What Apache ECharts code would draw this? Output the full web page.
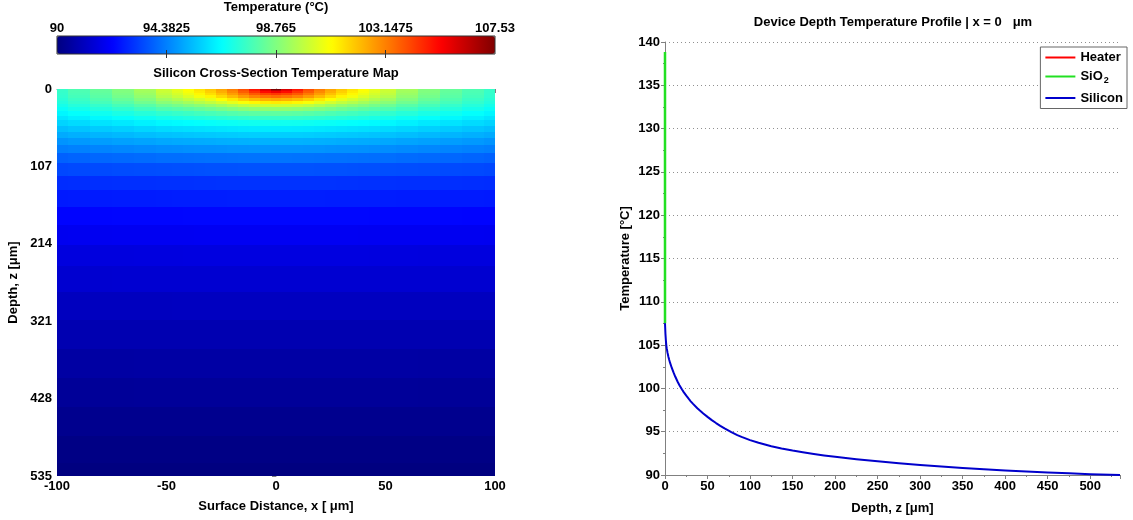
<!DOCTYPE html>
<html><head><meta charset="utf-8">
<script src="https://cdn.jsdelivr.net/npm/echarts@6/dist/echarts.min.js"></script>
<style>html,body{margin:0;padding:0;background:#fff}#c{width:1133px;height:520px}</style>
</head><body><div id="c"></div>
<script>
// ---- data ----
const xHalf = [0, 5, 10, 15, 20, 25, 30, 35, 40, 45, 50, 60, 70, 80, 90, 100];
const depthRows = [0, 2, 4, 7, 10, 14, 18, 23, 28, 34, 40, 47, 55, 63, 72, 82, 95, 110, 130, 150, 175, 200, 230, 260, 300, 340, 380, 420, 460, 500, 535];
const tempHalf = [
  [107.53,106.0,105.0,104.0,103.2,102.5,101.9,101.4,100.95,100.5,100.1,99.4,98.8,98.3,97.9,97.5],
  [106.5,105.74,104.86,103.94,103.15,102.47,101.87,101.38,100.92,100.49,100.08,99.38,98.79,98.3,97.89,97.5],
  [105.6,105.18,104.48,103.74,103.0,102.35,101.77,101.29,100.84,100.42,100.03,99.34,98.76,98.27,97.87,97.48],
  [104.4,104.2,103.83,103.26,102.64,102.04,101.5,101.07,100.65,100.24,99.89,99.22,98.68,98.2,97.82,97.44],
  [103.5,103.37,103.11,102.68,102.14,101.61,101.13,100.76,100.36,99.99,99.68,99.05,98.56,98.11,97.74,97.39],
  [102.4,102.31,102.11,101.77,101.34,100.94,100.55,100.22,99.9,99.6,99.31,98.8,98.33,97.95,97.59,97.28],
  [101.3,101.24,101.1,100.86,100.54,100.21,99.91,99.67,99.39,99.12,98.92,98.49,98.08,97.75,97.43,97.14],
  [100.1,100.06,99.97,99.81,99.59,99.36,99.12,98.96,98.78,98.6,98.42,98.07,97.76,97.46,97.2,96.93],
  [99.1,99.07,99.02,98.92,98.78,98.63,98.48,98.34,98.19,98.06,97.94,97.67,97.4,97.17,96.94,96.71],
  [98.2,98.18,98.15,98.08,97.99,97.89,97.79,97.7,97.59,97.49,97.4,97.21,97.0,96.81,96.63,96.44],
  [97.5,97.49,97.46,97.42,97.36,97.29,97.22,97.16,97.08,97.01,96.93,96.78,96.63,96.47,96.31,96.15],
  [96.85,96.84,96.83,96.8,96.75,96.71,96.66,96.61,96.56,96.5,96.45,96.33,96.2,96.09,95.96,95.83],
  [96.25,96.24,96.23,96.21,96.18,96.15,96.11,96.08,96.04,96.0,95.96,95.87,95.77,95.68,95.58,95.47],
  [95.75,95.75,95.74,95.72,95.7,95.67,95.64,95.62,95.59,95.56,95.52,95.45,95.37,95.29,95.21,95.12],
  [95.25,95.25,95.24,95.23,95.21,95.19,95.16,95.14,95.12,95.1,95.07,95.01,94.95,94.88,94.81,94.73],
  [94.75,94.75,94.74,94.73,94.72,94.7,94.68,94.67,94.65,94.63,94.61,94.56,94.51,94.46,94.4,94.34],
  [94.17,94.17,94.16,94.16,94.15,94.13,94.12,94.11,94.09,94.08,94.07,94.03,93.99,93.95,93.91,93.86],
  [93.6,93.6,93.6,93.59,93.58,93.58,93.57,93.56,93.55,93.54,93.53,93.51,93.49,93.46,93.44,93.41],
  [93.05,93.05,93.05,93.05,93.04,93.04,93.03,93.03,93.02,93.02,93.01,93.0,92.99,92.98,92.96,92.95],
  [92.7,92.7,92.7,92.7,92.7,92.69,92.69,92.69,92.68,92.68,92.67,92.66,92.65,92.64,92.63,92.62],
  [92.3,92.3,92.3,92.3,92.3,92.3,92.29,92.29,92.29,92.28,92.28,92.27,92.27,92.26,92.25,92.24],
  [91.98,91.98,91.98,91.98,91.98,91.98,91.98,91.98,91.97,91.97,91.97,91.96,91.96,91.95,91.95,91.94],
  [91.65,91.65,91.65,91.65,91.65,91.65,91.65,91.65,91.65,91.64,91.64,91.64,91.63,91.63,91.62,91.62],
  [91.4,91.4,91.4,91.4,91.4,91.4,91.4,91.4,91.4,91.39,91.39,91.39,91.39,91.38,91.38,91.38],
  [91.1,91.1,91.1,91.1,91.1,91.1,91.1,91.1,91.1,91.1,91.09,91.09,91.09,91.09,91.08,91.08],
  [90.85,90.85,90.85,90.85,90.85,90.85,90.85,90.85,90.85,90.85,90.85,90.85,90.84,90.84,90.84,90.84],
  [90.62,90.62,90.62,90.62,90.62,90.62,90.62,90.62,90.62,90.62,90.62,90.62,90.61,90.61,90.61,90.61],
  [90.43,90.43,90.43,90.43,90.43,90.43,90.43,90.43,90.43,90.43,90.43,90.43,90.42,90.42,90.42,90.42],
  [90.25,90.25,90.25,90.25,90.25,90.25,90.25,90.25,90.25,90.25,90.25,90.25,90.25,90.25,90.25,90.25],
  [90.08,90.08,90.08,90.08,90.08,90.08,90.08,90.08,90.08,90.08,90.08,90.08,90.08,90.08,90.08,90.08],
  [90.0,90.0,90.0,90.0,90.0,90.0,90.0,90.0,90.0,90.0,90.0,90.0,90.0,90.0,90.0,90.0]
];
const mapXTicks = [-100, -50, 0, 50, 100];
const mapDepthTicks = [0, 107, 214, 321, 428, 535];
const colorbarTicks = [90, 94.3825, 98.765, 103.1475, 107.53];
const colorbarInnerTicks = [94.3825, 98.765, 103.1475];

const siliconDepth = [0,0.5,1,1.5,2,3,4,5,6,8,10,12,15,17,20,22,25,28,30,33,35,38,41,45,50,55,60,65,70,78,85,90,100,110,125,137,150,162,175,187,200,225,250,275,300,325,350,375,400,425,450,475,500,535];
const siliconTemp  = [107.53,106.33,105.58,105.0,104.65,104.1,103.65,103.27,102.94,102.36,101.84,101.37,100.74,100.37,99.87,99.57,99.16,98.78,98.54,98.21,98.0,97.71,97.44,97.1,96.71,96.34,96.0,95.68,95.38,94.95,94.61,94.4,94.03,93.72,93.33,93.07,92.82,92.62,92.42,92.26,92.1,91.82,91.58,91.36,91.16,90.98,90.82,90.67,90.53,90.41,90.29,90.19,90.09,90.0];
const sio2Depth = [0, 0];
const sio2Temp  = [138.85, 107.53];
const heaterDepth = [0];
const heaterTemp  = [138.85];
const profileDepthTicks = [0,50,100,150,200,250,300,350,400,450,500];
const profileTempTicks = [90,95,100,105,110,115,120,125,130,135,140];

// ---- build ----
const xs = xHalf.slice(1).reverse().map(v => -v).concat(xHalf);
const mapData = [];
depthRows.forEach((z, zi) => {
  const half = tempHalf[zi];
  const full = half.slice(1).reverse().concat(half);
  full.forEach((t, xi) => mapData.push([xs[xi], z, t, xi, zi]));
});
const zip = (a, b) => a.map((v, i) => [v, b[i]]);

const FONT = '"Liberation Sans", Arial, sans-serif';
const lab = {color: '#000', fontSize: 13, fontWeight: 'bold', fontFamily: FONT};
const axLine = {show: true, lineStyle: {color: '#808080', width: 1}};
const jet = ['#000080', '#0000ff', '#0080ff', '#00ffff', '#80ff80', '#ffff00', '#ff8000', '#ff0000', '#800000'];

const chart = echarts.init(document.getElementById('c'), null, {renderer: 'canvas'});
chart.setOption({
  animation: false,
  backgroundColor: '#fff',
  textStyle: {fontFamily: FONT},
  graphic: [
    {type: 'text', x: 276, y: 1, style: {text: 'Temperature (°C)', textAlign: 'center', fill: '#000', font: 'bold 13px ' + FONT}},
    {type: 'text', x: 276, y: 67, style: {text: 'Silicon Cross-Section Temperature Map', textAlign: 'center', fill: '#000', font: 'bold 13px ' + FONT}},
    {type: 'text', x: 893, y: 16, style: {text: 'Device Depth Temperature Profile | x = 0   μm', textAlign: 'center', fill: '#000', font: 'bold 13px ' + FONT}}
  ],
  grid: [
    {left: 57, top: 89, width: 438, height: 387},
    {left: 665, top: 42, right: 13, bottom: 45},
    {left: 57, top: 36, width: 438, height: 18, show: true, borderColor: '#333', borderWidth: 1, backgroundColor: 'transparent', z: 10}
  ],
  visualMap: {
    type: 'continuous', min: 90, max: 107.53, dimension: 2, seriesIndex: 0,
    orient: 'horizontal', left: 57, top: 36, itemWidth: 18, itemHeight: 438,
    padding: 0, calculable: false, hoverLink: false, text: null,
    inRange: {color: jet}
  },
  legend: {
    data: [{name: 'Heater', icon: 'rect'}, {name: 'SiO2', icon: 'rect'}, {name: 'Silicon', icon: 'rect'}],
    orient: 'vertical', right: 6, top: 47,
    backgroundColor: '#fff', borderColor: '#666', borderWidth: 1,
    padding: [4, 4, 4, 5], itemGap: 6, itemWidth: 30, itemHeight: 2,
    selectedMode: false,
    formatter: n => n === 'SiO2' ? 'SiO{sub|2}' : n,
    textStyle: {color: '#000', fontSize: 13, fontWeight: 'bold', fontFamily: FONT,
      rich: {sub: {fontSize: 9, fontWeight: 'bold', fontFamily: FONT, color: '#000', verticalAlign: 'bottom', padding: [9, 0, 0, 1]}}}
  },
  xAxis: [
    {gridIndex: 0, type: 'value', min: -100, max: 100, interval: 50,
     axisLine: axLine, axisTick: {length: 4, lineStyle: {color: '#808080'}},
     minorTick: {show: true, splitNumber: 10, length: 2, lineStyle: {color: '#808080'}},
     splitLine: {show: false}, axisLabel: {...lab, margin: 4, customValues: mapXTicks},
     name: 'Surface Distance, x [ μm]', nameLocation: 'middle', nameGap: 24, nameTextStyle: lab},
    {gridIndex: 1, type: 'value', min: 0, max: 535, interval: 50,
     axisLine: axLine, axisTick: {length: 4, lineStyle: {color: '#808080'}},
     minorTick: {show: true, splitNumber: 2, length: 2, lineStyle: {color: '#808080'}},
     splitLine: {show: false}, axisLabel: {...lab, margin: 5, customValues: profileDepthTicks},
     name: 'Depth, z [μm]', nameLocation: 'middle', nameGap: 27, nameTextStyle: lab},
    {gridIndex: 2, type: 'value', min: 90, max: 107.53, position: 'top', z: 11,
     axisLine: {show: false}, axisTick: {show: true, inside: true, length: 4, lineStyle: {color: '#333'}, customValues: colorbarInnerTicks},
     splitLine: {show: false}, axisLabel: {...lab, margin: 1, customValues: colorbarTicks, formatter: v => String(+v.toFixed(4))}},
    {gridIndex: 2, type: 'value', min: 90, max: 107.53, position: 'bottom', z: 11,
     axisLine: {show: false}, axisTick: {show: true, inside: true, length: 4, lineStyle: {color: '#333'}, customValues: colorbarInnerTicks},
     splitLine: {show: false}, axisLabel: {show: false}}
  ],
  yAxis: [
    {gridIndex: 0, type: 'value', min: 0, max: 535, interval: 107, inverse: true,
     axisLine: axLine, axisTick: {length: 4, lineStyle: {color: '#808080'}},
     minorTick: {show: true, splitNumber: 5, length: 2, lineStyle: {color: '#808080'}},
     splitLine: {show: false}, axisLabel: {...lab, margin: 5, customValues: mapDepthTicks},
     name: 'Depth, z [μm]', nameLocation: 'middle', nameGap: 37, nameTextStyle: lab},
    {gridIndex: 1, type: 'value', min: 90, max: 140, interval: 5,
     axisLine: axLine, axisTick: {length: 4, lineStyle: {color: '#808080'}},
     minorTick: {show: true, splitNumber: 2, length: 2, lineStyle: {color: '#808080'}},
     splitLine: {show: true, lineStyle: {color: '#909090', type: [1, 3], width: 1}},
     axisLabel: {...lab, margin: 5, customValues: profileTempTicks},
     name: 'Temperature [°C]', nameLocation: 'middle', nameGap: 33, nameTextStyle: lab},
    {gridIndex: 2, type: 'value', show: false, min: 0, max: 1}
  ],
  series: [
    {
      type: 'custom', xAxisIndex: 0, yAxisIndex: 0, data: mapData, encode: {x: 0, y: 1},
      clip: true, silent: true,
      renderItem: function (params, api) {
        const xi = api.value(3), zi = api.value(4);
        const xa = xi === 0 ? xs[0] : (xs[xi - 1] + xs[xi]) / 2;
        const xb = xi === xs.length - 1 ? xs[xi] : (xs[xi] + xs[xi + 1]) / 2;
        const za = zi === 0 ? depthRows[0] : (depthRows[zi - 1] + depthRows[zi]) / 2;
        const zb = zi === depthRows.length - 1 ? depthRows[zi] : (depthRows[zi] + depthRows[zi + 1]) / 2;
        const p0 = api.coord([xa, za]), p1 = api.coord([xb, zb]);
        const x0 = Math.round(Math.min(p0[0], p1[0])), x1 = Math.round(Math.max(p0[0], p1[0]));
        const y0 = Math.round(Math.min(p0[1], p1[1])), y1 = Math.round(Math.max(p0[1], p1[1]));
        return {type: 'rect', shape: {x: x0, y: y0, width: x1 - x0, height: y1 - y0},
          style: {fill: api.visual('color')}};
      }
    },
    {type: 'line', name: 'Heater', xAxisIndex: 1, yAxisIndex: 1, data: zip(heaterDepth, heaterTemp),
     symbol: 'none', color: '#ff0000', lineStyle: {color: '#ff0000', width: 2}, silent: true, z: 5},
    {type: 'line', name: 'SiO2', xAxisIndex: 1, yAxisIndex: 1, data: zip(sio2Depth, sio2Temp),
     symbol: 'none', color: '#22e022', lineStyle: {color: '#22e022', width: 2.5}, silent: true, z: 5},
    {type: 'line', name: 'Silicon', xAxisIndex: 1, yAxisIndex: 1, data: zip(siliconDepth, siliconTemp),
     symbol: 'none', smooth: false, color: '#0000cc', lineStyle: {color: '#0000cc', width: 2, join: 'round'}, silent: true, z: 6}
  ]
});
</script></body></html>
